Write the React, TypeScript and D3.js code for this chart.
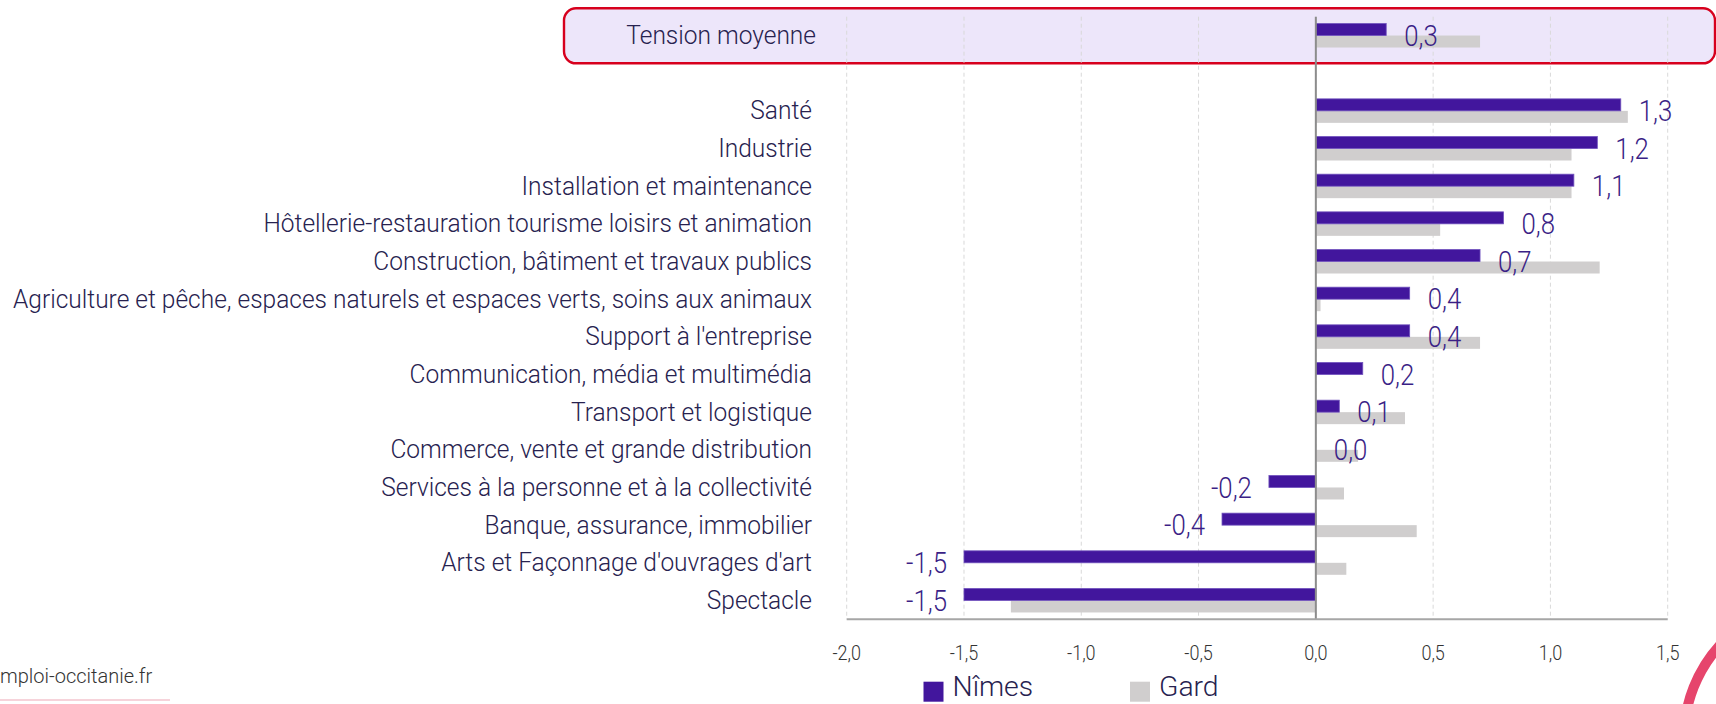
import * as d3 from "d3"

const W = 1716
const H = 704

const categories = [
  "Tension moyenne",
  "Santé",
  "Industrie",
  "Installation et maintenance",
  "Hôtellerie-restauration tourisme loisirs et animation",
  "Construction, bâtiment et travaux publics",
  "Agriculture et pêche, espaces naturels et espaces verts, soins aux animaux",
  "Support à l'entreprise",
  "Communication, média et multimédia",
  "Transport et logistique",
  "Commerce, vente et grande distribution",
  "Services à la personne et à la collectivité",
  "Banque, assurance, immobilier",
  "Arts et Façonnage d'ouvrages d'art",
  "Spectacle",
]
const nimes = [0.3, 1.3, 1.2, 1.1, 0.8, 0.7, 0.4, 0.4, 0.2, 0.1, 0.0, -0.2, -0.4, -1.5, -1.5]
const gard = [0.7, 1.33, 1.09, 1.09, 0.53, 1.21, 0.02, 0.7, 0, 0.38, 0.18, 0.12, 0.43, 0.13, -1.3]
const series = ["Nîmes", "Gard"]
const ticks = [-2, -1.5, -1, -0.5, 0, 0.5, 1, 1.5]

const PURPLE = "#42169d"
const GREY = "#d0cece"
const TEXT = "#27224f"

// french decimals, plain hyphen for negatives
const fmt = (v: number) => v.toFixed(1).replace(".", ",")

export default function App() {
  // blank row between the average and the sectors
  const domain = [categories[0], "__gap__", ...categories.slice(1)]
  const x = d3.scaleLinear().domain([-2, 1.5]).range([846.7, 1667.7])
  const y = d3.scaleBand().domain(domain).range([16.7, 619.3])
  const sub = d3.scaleBand().domain(series).range([0, y.bandwidth()]).paddingOuter(0.57)
  const bh = sub.bandwidth()
  const font = "Roboto, 'Noto Sans', sans-serif"

  const rows = categories.map((c, i) => ({ c, n: nimes[i], g: gard[i] }))
  const avgTop = y(categories[0])!

  return (
    <div style={{ position: "fixed", left: 0, top: 0 }}>
      <svg width={W} height={H} style={{ display: "block", background: "#fff" }}>
        <defs>
          <filter id="blur" x="-50%" y="-50%" width="200%" height="200%">
            <feGaussianBlur stdDeviation="6" />
          </filter>
        </defs>

        {/* highlight box for the average */}
        <rect x={564} y={avgTop - 8.4} width={1151} height={55} rx={12} fill="#ede6fa" stroke="#d7001d" strokeWidth={2.4} />

        {/* grid */}
        {ticks.map((t) => (
          <line key={t} x1={x(t)} x2={x(t)} y1={16.7} y2={619.3} stroke="#d9d9d9" strokeWidth={1} strokeDasharray="4,3" />
        ))}

        {/* bars */}
        {rows.map((r) => {
          const y0 = y(r.c)!
          return (
            <g key={r.c}>
              <rect
                x={Math.min(x(0), x(r.g))}
                y={y0 + sub("Gard")!}
                width={Math.abs(x(r.g) - x(0))}
                height={bh}
                fill={GREY}
              />
              <rect
                x={Math.min(x(0), x(r.n))}
                y={y0 + sub("Nîmes")!}
                width={Math.abs(x(r.n) - x(0))}
                height={bh}
                fill={PURPLE}
                stroke="#7052bd"
                strokeWidth={r.n === 0 ? 0 : 0.8}
              />
            </g>
          )
        })}

        {/* zero axis and bottom axis */}
        <line x1={x(0)} x2={x(0)} y1={16.7} y2={619.3} stroke="#8c8c8c" strokeWidth={2} />
        <line x1={x(-2)} x2={x(1.5)} y1={619.3} y2={619.3} stroke="#a6a6a6" strokeWidth={2} />

        {/* value labels */}
        {rows.map((r) => {
          const cy = y(r.c)! + y.bandwidth() / 2
          const neg = r.n < 0
          const lx = neg ? x(r.n) - 17 : x(r.n) + 18
          return (
            <g key={r.c} transform={`translate(${lx},${cy}) scale(0.86,1)`}>
              <text
                textAnchor={neg ? "end" : "start"}
                dominantBaseline="central"
                fontFamily={font}
                fontWeight={300}
                fontSize={30}
                fill="#3b1f86"
              >
                {fmt(r.n)}
              </text>
            </g>
          )
        })}

        {/* category labels */}
        {rows.map((r, i) => {
          const cy = y(r.c)! + y.bandwidth() / 2
          return (
            <g key={r.c} transform={`translate(${i === 0 ? 816 : 812},${cy}) scale(0.98,1)`}>
              <text textAnchor="end" dominantBaseline="central" fontFamily={font} fontWeight={300} fontSize={25} fill={TEXT}>
                {r.c}
              </text>
            </g>
          )
        })}

        {/* tick labels */}
        {ticks.map((t) => (
          <g key={t} transform={`translate(${x(t)},653) scale(0.9,1)`}>
            <text textAnchor="middle" dominantBaseline="central" fontFamily={font} fontWeight={300} fontSize={20} fill="#333">
              {fmt(t)}
            </text>
          </g>
        ))}

        {/* legend */}
        {series.map((s, i) => {
          const lx = i === 0 ? 923.5 : 1130
          return (
            <g key={s}>
              <rect x={lx} y={681.7} width={20} height={20} fill={i === 0 ? PURPLE : GREY} />
              <g transform={`translate(${lx + 29},687) scale(1.05,1)`}>
                <text dominantBaseline="central" fontFamily={font} fontWeight={300} fontSize={27} fill={TEXT}>
                  {s}
                </text>
              </g>
            </g>
          )
        })}

        {/* source and decoration */}
        <text x={0} y={676} dominantBaseline="central" fontFamily={font} fontWeight={300} fontSize={20} fill="#333">
          mploi-occitanie.fr
        </text>
        <line x1={0} x2={170} y1={700} y2={700} stroke="#f6d3da" strokeWidth={2} />
        <circle cx={1822} cy={738} r={138} fill="none" stroke="#ffffff" strokeWidth={26} filter="url(#blur)" opacity={0.9} />
        <circle cx={1822} cy={738} r={138} fill="none" stroke="#e6456c" strokeWidth={10} />
      </svg>
    </div>
  )
}
